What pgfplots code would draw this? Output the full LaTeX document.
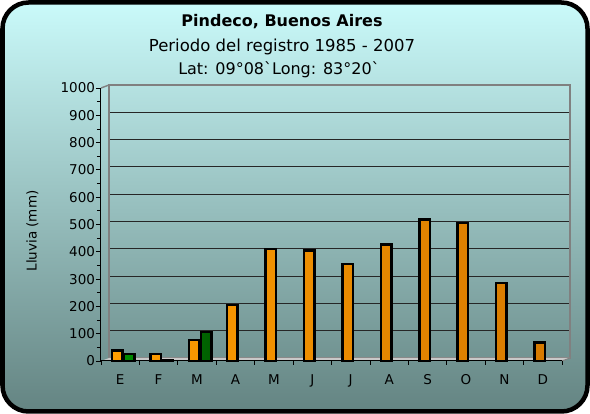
\documentclass[border=0pt]{standalone}
\usepackage{pgfplots}
\pgfplotsset{compat=1.18}
\usepackage{fontspec}
\setmainfont{DejaVu Sans}[Ligatures=TeXOff]
\definecolor{bgtop}{RGB}{202,250,250}
\definecolor{bgmid}{RGB}{165,210,210}
\definecolor{bgbot}{RGB}{100,132,130}
\definecolor{barorange}{RGB}{255,158,0}
\definecolor{barorangedk}{RGB}{215,122,0}
\definecolor{bargreen}{RGB}{0,140,0}
\definecolor{bargreendk}{RGB}{0,95,0}
\definecolor{wallgray}{RGB}{128,128,128}
\definecolor{floorgray}{RGB}{200,200,200}
\newcommand{\lblfont}{\fontsize{13.5}{16}\selectfont}
\pgfplotsset{every tick label/.append style={font=\lblfont}}

\pgfplotstableread{
x y
0 38
1 25
2 76
3 205
4 410
5 405
6 355
7 427
8 518
9 505
10 285
11 68
}\orange
\pgfplotstableread{
x y
0 26
1 3
2 106
}\green

\begin{document}
\begin{tikzpicture}[x=1pt,y=1pt]
\fill[white] (0,0) rectangle (590,414);
\draw[line width=4.5pt, rounded corners=26pt, top color=bgtop, middle color=bgmid, bottom color=bgbot] (2.5,2.5) rectangle (587.5,411.5);

\node[anchor=base, font=\fontsize{16}{19}\selectfont\bfseries] at (282,387.3) {Pindeco, Buenos Aires};
\node[anchor=base, font=\fontsize{16.5}{19}\selectfont] at (282,362.3) {Periodo del registro 1985 - 2007};
\node[anchor=base, font=\fontsize{16}{19}\selectfont] at (279,339) {Lat: 09°08`Long: 83°20`};

\node[rotate=90, font=\lblfont] at (32.5,183) {Lluvia (mm)};

% back wall
\begin{axis}[at={(109pt,56pt)}, anchor=south west, scale only axis,
  width=461pt, height=273pt, xmin=0, xmax=1, ymin=0, ymax=1000,
  ytick={100,200,...,900}, yticklabels={}, xtick=\empty,
  ymajorgrids, major grid style={black!85, line width=0.9pt},
  axis line style={wallgray, line width=1.6pt}, major tick length=0pt]
\end{axis}

\fill[floorgray] (101,53) -- (562,53) -- (570,56) -- (109,56) -- cycle;
\draw[wallgray, line width=1.4pt] (101,326) -- (109,329);
\draw[wallgray, line width=1pt] (562,53) -- (570,56);

% front axis with bars
\begin{axis}[at={(101pt,53pt)}, anchor=south west, scale only axis,
  width=461pt, height=273pt,
  xmin=-0.5, xmax=11.5, ymin=0, ymax=1000,
  axis lines*=left, axis line style={black, line width=1pt},
  ytick={0,100,...,1000}, minor ytick={50,150,...,950},
  yticklabel style={font=\lblfont, anchor=east, xshift=2.5pt},
  /pgf/number format/assume math mode=true,
  /pgf/number format/1000 sep={},
  xtick={0,1,...,11},
  xticklabels={E,F,M,A,M,J,J,A,S,O,N,D},
  xticklabel style={font=\lblfont, anchor=north, yshift=-5pt},
  minor xtick={-0.5,0.5,...,11.5},
  major x tick style={draw=none},
  minor x tick style={draw=black, line width=0.8pt},
  tick align=outside, major tick length=5pt, minor tick length=4pt,
  y tick style={black, line width=0.8pt},
  clip=false]
\addplot[ybar, bar width=10.5pt, bar shift=-3pt, draw=black, line width=2.5pt,
  left color=barorange, right color=barorangedk] table[x=x,y=y] {\orange};
\addplot[ybar, bar width=10.5pt, bar shift=9pt, draw=black, line width=2.5pt,
  left color=bargreen, right color=bargreendk] table[x=x,y=y] {\green};
\end{axis}
\end{tikzpicture}
\end{document}
